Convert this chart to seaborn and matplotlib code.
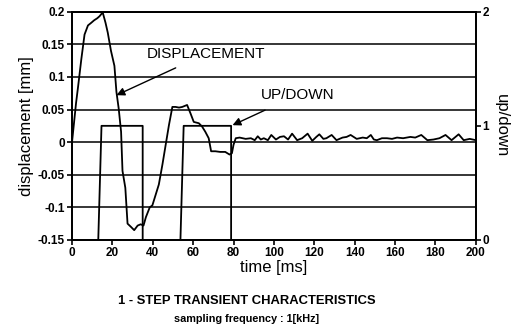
import seaborn as sns
import matplotlib.pyplot as plt
import pandas as pd

# displacement [mm], time in ms
disp_time = [0, 1, 2, 3, 4.6, 6.2, 7.9, 9.5, 11, 12.5, 13.6, 15.2, 16.6, 17.7, 19.3,
             21, 22, 23.1, 24.3, 25, 26.4, 27.5, 29.2, 30.8, 32.5, 34, 35.4, 36.6,
             38.5, 39.8, 41.5, 43, 44.8, 46.4, 48, 49.7, 51.3, 53, 54.6, 57, 58.7,
             60.3, 62.8, 64.4, 66, 67.7, 68.9, 71, 73.4, 75.9, 78, 79.2, 80, 81.1,
             83, 86, 88.6, 90.5, 92, 93.5, 95, 97, 98.7, 101, 103, 105, 107, 109,
             111.5, 114, 116.7, 119, 121, 122.5, 124.5, 126, 128.6, 131, 134, 136,
             138, 141, 144, 146, 148, 149.5, 151, 153.5, 156, 158.5, 161, 164,
             167.6, 170, 173, 176, 179, 182, 185, 188, 191.5, 194, 197, 200]
displacement = [0.0, 0.03, 0.06, 0.085, 0.127, 0.165, 0.179, 0.183, 0.187, 0.19, 0.193,
                0.199, 0.183, 0.168, 0.14, 0.117, 0.077, 0.052, 0.016, -0.044, -0.07,
                -0.125, -0.13, -0.135, -0.128, -0.126, -0.128, -0.115, -0.1, -0.097,
                -0.08, -0.065, -0.034, -0.004, 0.026, 0.054, 0.054, 0.053, 0.054,
                0.057, 0.044, 0.031, 0.029, 0.024, 0.016, 0.006, -0.014, -0.014,
                -0.015, -0.015, -0.019, -0.017, -0.004, 0.006, 0.007, 0.005, 0.006,
                0.003, 0.009, 0.004, 0.006, 0.003, 0.011, 0.004, 0.008, 0.009,
                0.004, 0.013, 0.003, 0.006, 0.013, 0.002, 0.008, 0.012, 0.005, 0.006,
                0.011, 0.003, 0.007, 0.008, 0.011, 0.005, 0.007, 0.006, 0.011, 0.004,
                0.003, 0.006, 0.006, 0.005, 0.007, 0.006, 0.008, 0.007, 0.011, 0.003,
                0.004, 0.006, 0.011, 0.003, 0.012, 0.003, 0.005, 0.003]

# up/down command (0 or 1)
updown_time = [0, 13, 14.6, 35, 35, 53.7, 55.3, 78.8, 78.8, 200]
updown = [0, 0, 1, 1, 0, 0, 1, 1, 0, 0]

disp_ticks = [-0.15, -0.1, -0.05, 0, 0.05, 0.1, 0.15, 0.2]
disp_tick_labels = ["-0.15", "-0.1", "-0.05", "0", "0.05", "0.1", "0.15", "0.2"]
time_ticks = [0, 20, 40, 60, 80, 100, 120, 140, 160, 180, 200]
updown_ticks = [0, 1, 2]

sns.set_style("ticks")
plt.rcParams['font.family'] = ['Liberation Sans', 'DejaVu Sans']
plt.rcParams['text.color'] = 'black'
plt.rcParams['axes.labelcolor'] = 'black'

fig = plt.figure(figsize=(5.2, 3.26), dpi=100)
ax = fig.add_axes([0.1385, 0.264, 0.7765, 0.7])

df_disp = pd.DataFrame({"t": disp_time, "d": displacement})
sns.lineplot(data=df_disp, x="t", y="d", ax=ax, color="black", lw=1.3,
             estimator=None, sort=False)

ax.set_xlim(0, 200)
ax.set_ylim(-0.15, 0.2)
ax.set_xticks(time_ticks)
ax.set_yticks(disp_ticks)
ax.set_yticklabels(disp_tick_labels)
ax.yaxis.grid(True, color="black", lw=1.1)
ax.set_axisbelow(True)
for s in ax.spines.values():
    s.set_linewidth(1.3)
    s.set_color("black")
ax.tick_params(axis="both", labelsize=8.5, width=1.2, length=3.5, colors="black", pad=1.5)
for lab in ax.get_xticklabels() + ax.get_yticklabels():
    lab.set_fontweight("bold")
ax.set_xlabel("time [ms]", fontsize=12, labelpad=1)
ax.set_ylabel("displacement [mm]", fontsize=12, labelpad=3)

ax2 = ax.twinx()
df_ud = pd.DataFrame({"t": updown_time, "u": updown})
sns.lineplot(data=df_ud, x="t", y="u", ax=ax2, color="black", lw=1.3,
             estimator=None, sort=False)
ax2.set_ylim(0, 2)
ax2.set_xlim(0, 200)
ax2.set_yticks(updown_ticks)
ax2.tick_params(axis="y", labelsize=8.5, width=1.2, length=3.5, colors="black", pad=1.5)
for lab in ax2.get_yticklabels():
    lab.set_fontweight("bold")
ax2.set_ylabel("up/down", fontsize=12, rotation=270, labelpad=14)
for s in ax2.spines.values():
    s.set_linewidth(1.3)
    s.set_color("black")

ax.annotate("DISPLACEMENT", xy=(22, 0.072), xytext=(36.8, 0.135),
            fontsize=11, va="center", ha="left",
            arrowprops=dict(arrowstyle="-|>", color="black", lw=1, shrinkA=6, shrinkB=0,
                            mutation_scale=12))
ax.annotate("UP/DOWN", xy=(79.5, 0.026), xytext=(93.4, 0.072),
            fontsize=11, va="center", ha="left",
            arrowprops=dict(arrowstyle="-|>", color="black", lw=1, shrinkA=8, shrinkB=0,
                            mutation_scale=12))

fig.text(247 / 520, 1 - 301.5 / 326, "1 - STEP TRANSIENT CHARACTERISTICS",
         ha="center", va="center", fontsize=9.4, fontweight="bold")
fig.text(247 / 520, 1 - 319 / 326, "sampling frequency : 1[kHz]",
         ha="center", va="center", fontsize=7.8, fontweight="bold")

fig.savefig("out.png", dpi=100)
